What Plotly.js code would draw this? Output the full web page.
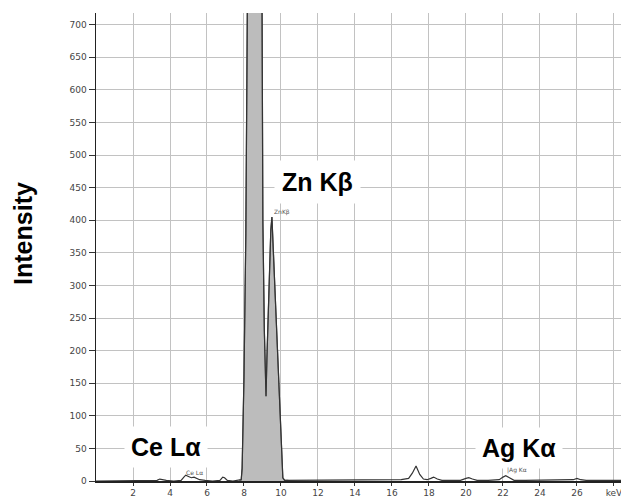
<!DOCTYPE html>
<html><head><meta charset="utf-8">
<script src="https://cdn.plot.ly/plotly-3.0.1.min.js"></script>
<style>body{margin:0;background:#fff}#chart{width:621px;height:501px}</style>
</head><body><div id="chart"></div>
<script>
// EDS spectrum (energy in keV, intensity in counts)
const energyKeV = [0, 0.5, 1.0, 1.5, 2.0, 2.5, 3.0, 3.3, 3.45, 3.6, 3.8, 4.2, 4.6, 4.75, 4.85, 5.0, 5.15, 5.3, 5.45, 5.6, 5.9, 6.3, 6.7, 6.85, 6.95, 7.1, 7.4, 7.75,
  7.85, 7.9, 8.0, 8.1, 8.2, 8.3, 8.45, 8.6, 8.75, 8.9, 8.97, 9.02, 9.1, 9.17, 9.19, 9.24, 9.28, 9.38, 9.45, 9.51, 9.6, 9.7, 9.8, 9.9, 10.0, 10.1, 10.2,
  10.4, 11, 12, 13, 14, 15, 16, 16.5, 16.9, 17.1, 17.3, 17.5, 17.7, 17.9, 18.1, 18.25, 18.45, 18.7, 19.2, 19.7, 20.0, 20.15, 20.35, 20.6, 21.2, 21.8,
  22.0, 22.15, 22.35, 22.6, 23.2, 24, 24.8, 25.3, 25.8, 26.0, 26.2, 26.5, 26.8, 26.9, 27.0, 27.5, 28, 28.4];
const intensity = [0, 0, 0, 0, 0, 0, 0, 1, 3, 2, 1, 0, 1, 6, 9, 7, 5, 6, 4, 2, 1, 0, 1, 6, 5, 1, 0, 1,
  2, 20, 160, 380, 720, 1300, 2100, 2500, 2200, 1300, 720, 400, 231, 140, 130, 190, 231, 330, 385, 405, 343, 275, 206, 137, 69, 5, 1,
  1, 1, 1, 1, 1, 1, 1, 2, 4, 12, 23, 10, 3, 2, 4, 6, 3, 1, 1, 1, 4, 5, 3, 1, 1, 2,
  6, 8, 5, 1, 1, 1, 1, 1, 2, 4, 2, 1, 1, 2, 1, 1, 1, 1];

const xTickVals = [2, 4, 6, 8, 10, 12, 14, 16, 18, 20, 22, 24, 26, 28];
const xTickText = ['2', '4', '6', '8', '10', '12', '14', '16', '18', '20', '22', '24', '26', 'keV'];
const yTickVals = [0, 50, 100, 150, 200, 250, 300, 350, 400, 450, 500, 550, 600, 650, 700];

const bigLabels = ['Zn Kβ', 'Ce Lα', 'Ag Kα'];
const smallLabels = ['ZnKβ', 'Ce Lα', '|Ag Kα'];
const yTitle = 'Intensity';

// Zn region drawn filled
const znX = [], znY = [];
energyKeV.forEach((e, i) => { if (e >= 7.75 && e <= 10.4) { znX.push(e); znY.push(intensity[i]); } });

const traces = [
  {x: znX, y: znY, type: 'scatter', mode: 'lines', fill: 'tozeroy',
   fillcolor: '#bcbcbc', line: {color: '#5a5a5a', width: 1.2}, hoverinfo: 'skip'},
  {x: energyKeV, y: intensity, type: 'scatter', mode: 'lines',
   line: {color: '#333', width: 1.2}, hoverinfo: 'skip'}
];

const bigFont = {family: 'Liberation Sans, Arial, sans-serif', size: 25, color: '#000'};
const smallFont = {family: 'DejaVu Sans, sans-serif', size: 6, color: '#555'};
const tickFont = {family: 'DejaVu Sans, sans-serif', size: 9, color: '#444'};

const layout = {
  width: 621, height: 501,
  margin: {l: 96, r: 0, t: 13, b: 20, pad: 0},
  paper_bgcolor: '#fff', plot_bgcolor: '#fff',
  showlegend: false,
  xaxis: {
    range: [0, 28.38], tickmode: 'array', tickvals: xTickVals, ticktext: xTickText,
    showgrid: true, gridcolor: '#c2c2c2', gridwidth: 1, zeroline: false,
    showline: true, linecolor: '#222', linewidth: 1.5,
    ticks: 'outside', ticklen: 3, tickcolor: '#333', ticklabelstandoff: 0,
    ticklabeloverflow: 'allow',
    tickfont: tickFont, automargin: false, fixedrange: true
  },
  yaxis: {
    range: [0, 718], tickmode: 'array', tickvals: yTickVals,
    showgrid: true, gridcolor: '#c2c2c2', gridwidth: 1, zeroline: false,
    showline: true, linecolor: '#222', linewidth: 1.5,
    ticks: 'outside', ticklen: 6, tickcolor: '#333',
    tickfont: tickFont, automargin: false, fixedrange: true
  },
  annotations: [
    {text: '<b>' + yTitle + '</b>', xref: 'paper', yref: 'paper', x: -0.139, y: 0.528,
     textangle: -90, showarrow: false, xanchor: 'center', yanchor: 'middle', font: bigFont},
    {text: '<b>' + bigLabels[0] + '</b>', xref: 'x', yref: 'y', x: 11.95, y: 458, showarrow: false,
     bgcolor: '#fff', borderpad: 7, font: bigFont},
    {text: '<b>' + bigLabels[1] + '</b>', xref: 'x', yref: 'y', x: 3.8, y: 52, showarrow: false,
     bgcolor: '#fff', borderpad: 6, font: bigFont},
    {text: '<b>' + bigLabels[2] + '</b>', xref: 'x', yref: 'y', x: 22.84, y: 51, showarrow: false,
     bgcolor: '#fff', borderpad: 6, font: bigFont},
    {text: smallLabels[0], xref: 'x', yref: 'y', x: 10.05, y: 412, showarrow: false, font: smallFont},
    {text: smallLabels[1], xref: 'x', yref: 'y', x: 5.3, y: 13, showarrow: false, font: smallFont},
    {text: smallLabels[2], xref: 'x', yref: 'y', x: 22.75, y: 17, showarrow: false, font: smallFont}
  ]
};

Plotly.newPlot('chart', traces, layout, {staticPlot: true, displayModeBar: false});
</script>
</body></html>
